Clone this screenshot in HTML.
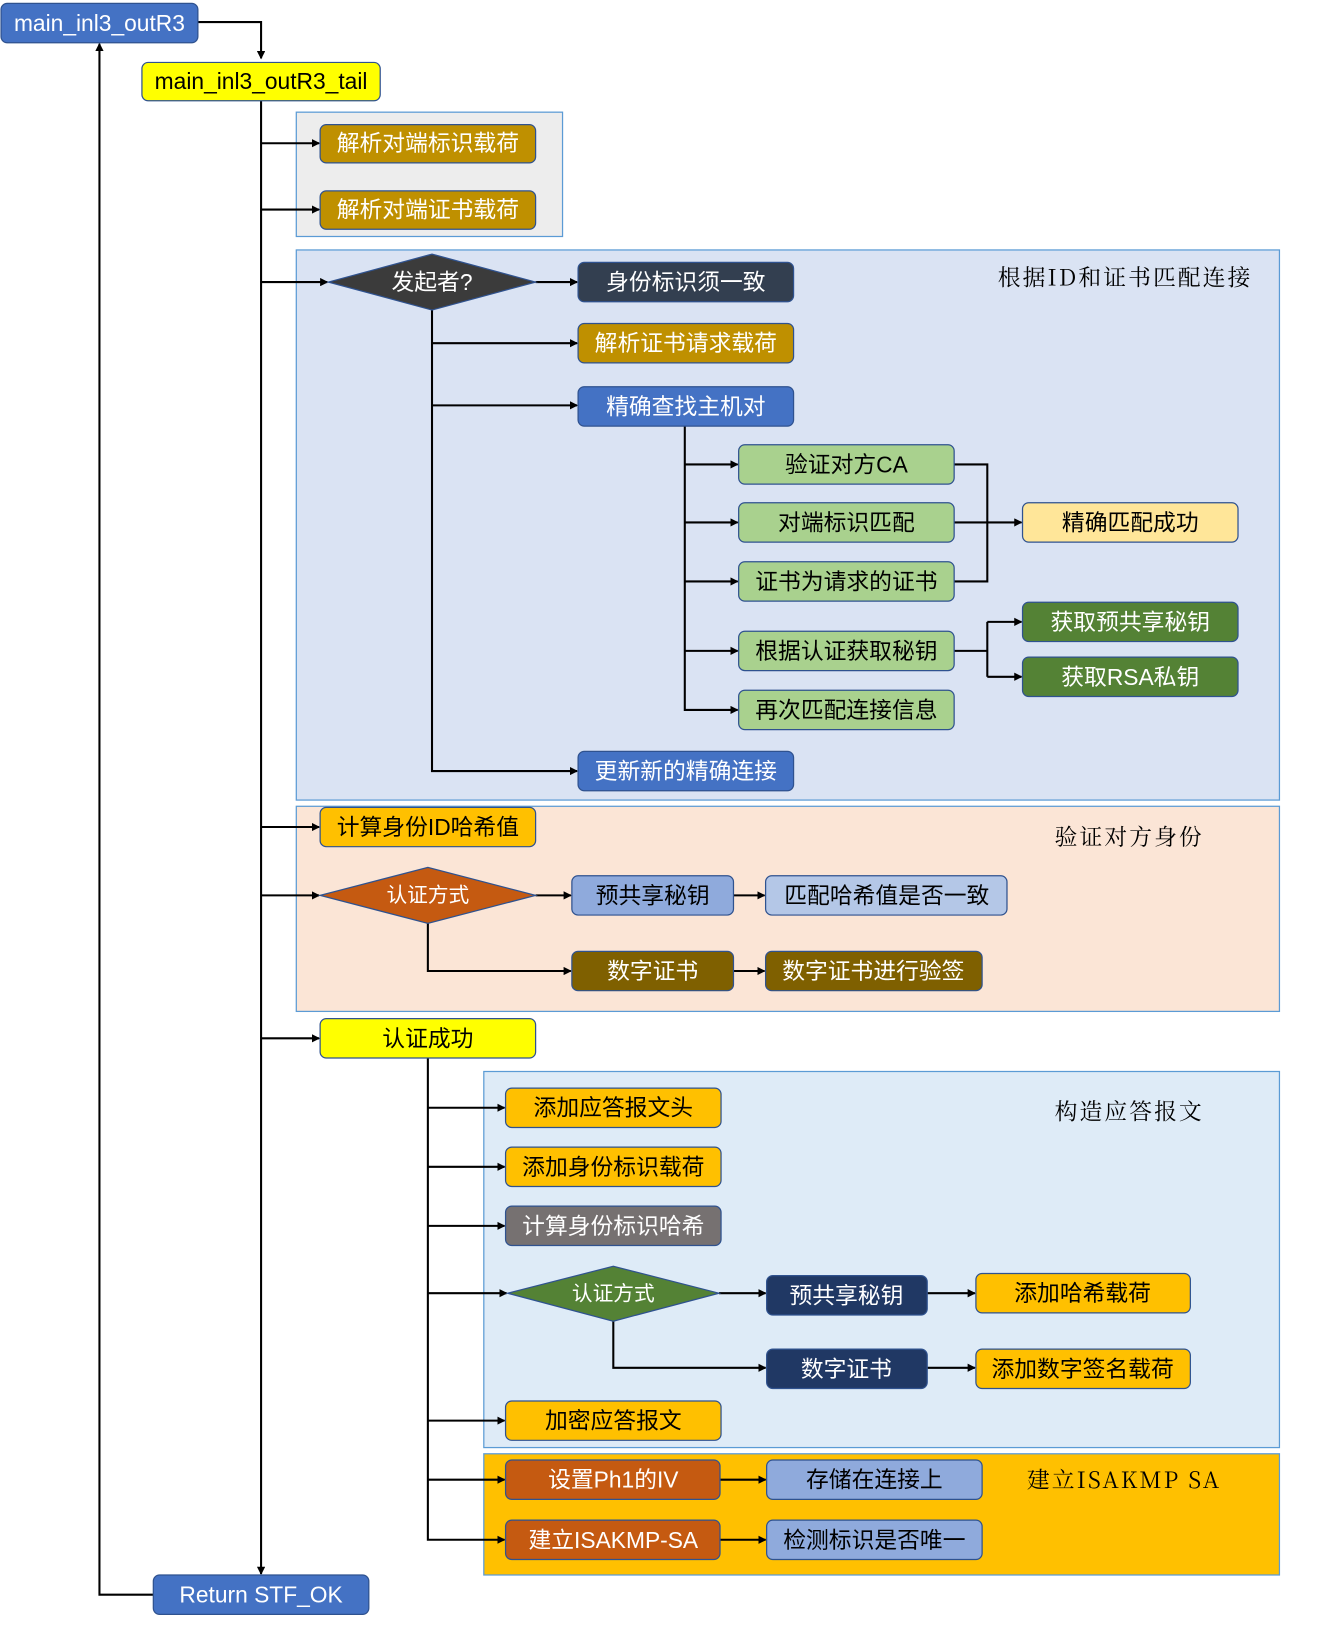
<!DOCTYPE html>
<html><head><meta charset="utf-8"><style>
html,body{margin:0;padding:0;background:#fff}
svg{display:block}
text{font-family:"Liberation Sans","Noto Sans CJK SC",sans-serif;font-size:22px;text-anchor:middle;dominant-baseline:central}
.t{font-family:"Noto Serif CJK SC","Liberation Serif",serif;font-size:22px;letter-spacing:2px;fill:#000}
.w{fill:#fff}.k{fill:#000}
.l{stroke:#000;stroke-width:2;fill:none}
</style></head><body>
<svg width="1324" height="1625" viewBox="0 0 1278 1568" xmlns="http://www.w3.org/2000/svg">
<defs><marker id="a" markerWidth="8" markerHeight="8" refX="7" refY="4" orient="auto" markerUnits="userSpaceOnUse"><path d="M0,0 L8,4 L0,8 z" fill="#000"/></marker></defs>
<!-- groups -->
<rect x="286" y="108" width="257" height="120" fill="#EDEDED" stroke="#5B9BD5" stroke-width="1.2"/>
<rect x="286" y="241" width="949" height="531" fill="#DAE3F3" stroke="#5B9BD5" stroke-width="1.2"/>
<rect x="286" y="778" width="949" height="198" fill="#FBE5D6" stroke="#5B9BD5" stroke-width="1.2"/>
<rect x="467" y="1034" width="768" height="363" fill="#DEEBF7" stroke="#5B9BD5" stroke-width="1.2"/>
<rect x="467" y="1403" width="768" height="117" fill="#FFC000" stroke="#5B9BD5" stroke-width="1.2"/>
<text class="t" x="1086" y="266">根据ID和证书匹配连接</text>
<text class="t" x="1090" y="806">验证对方身份</text>
<text class="t" x="1090" y="1071">构造应答报文</text>
<text class="t" x="1085" y="1427">建立ISAKMP SA</text>
<!-- lines -->
<g class="l">
<path d="M191,21 H252 V56" marker-end="url(#a)"/>
<path d="M252,97 V1519" marker-end="url(#a)"/>
<path d="M148,1539 H96 V42" marker-end="url(#a)"/>
<path d="M252,138 H308" marker-end="url(#a)"/>
<path d="M252,202 H308" marker-end="url(#a)"/>
<path d="M252,272 H316" marker-end="url(#a)"/>
<path d="M252,798 H308" marker-end="url(#a)"/>
<path d="M252,864 H308" marker-end="url(#a)"/>
<path d="M252,1002 H308" marker-end="url(#a)"/>
<path d="M517,272 H557" marker-end="url(#a)"/>
<path d="M417,299 V744 H557" marker-end="url(#a)"/>
<path d="M417,331 H557" marker-end="url(#a)"/>
<path d="M417,391 H557" marker-end="url(#a)"/>
<path d="M661,411 V685 H712" marker-end="url(#a)"/>
<path d="M661,448 H712" marker-end="url(#a)"/>
<path d="M661,504 H712" marker-end="url(#a)"/>
<path d="M661,561 H712" marker-end="url(#a)"/>
<path d="M661,628 H712" marker-end="url(#a)"/>
<path d="M921,448 H953 V561 H921"/>
<path d="M921,504 H986" marker-end="url(#a)"/>
<path d="M921,628 H953"/>
<path d="M953,600 V653"/>
<path d="M953,600 H986" marker-end="url(#a)"/>
<path d="M953,653 H986" marker-end="url(#a)"/>
<path d="M517,864 H551" marker-end="url(#a)"/>
<path d="M413,891 V937 H551" marker-end="url(#a)"/>
<path d="M708,864 H738" marker-end="url(#a)"/>
<path d="M708,937 H738" marker-end="url(#a)"/>
<path d="M413,1021 V1486 H487" marker-end="url(#a)"/>
<path d="M413,1069 H487" marker-end="url(#a)"/>
<path d="M413,1126 H487" marker-end="url(#a)"/>
<path d="M413,1183 H487" marker-end="url(#a)"/>
<path d="M413,1248 H489" marker-end="url(#a)"/>
<path d="M413,1371 H487" marker-end="url(#a)"/>
<path d="M413,1428 H487" marker-end="url(#a)"/>
<path d="M694,1248 H739" marker-end="url(#a)"/>
<path d="M592,1275 V1320 H739" marker-end="url(#a)"/>
<path d="M895,1248 H941" marker-end="url(#a)"/>
<path d="M895,1320 H941" marker-end="url(#a)"/>
<path d="M695,1428 H739" marker-end="url(#a)"/>
<path d="M695,1486 H739" marker-end="url(#a)"/>
</g>
<!-- nodes -->
<g stroke="#2F528F" stroke-width="1.2">
<rect x="1" y="3" width="190" height="38" rx="6" fill="#4472C4"/>
<rect x="137" y="60" width="230" height="37" rx="6" fill="#FFFF00"/>
<rect x="309" y="120" width="208" height="37" rx="6" fill="#BF9000"/>
<rect x="309" y="184" width="208" height="37" rx="6" fill="#BF9000"/>
<polygon points="317,272 417,245 517,272 417,299" fill="#3B3B3B"/>
<rect x="558" y="253" width="208" height="38" rx="6" fill="#333F50"/>
<rect x="558" y="312" width="208" height="38" rx="6" fill="#BF9000"/>
<rect x="558" y="373" width="208" height="38" rx="6" fill="#4472C4"/>
<rect x="713" y="429" width="208" height="38" rx="6" fill="#A9D18E"/>
<rect x="713" y="485" width="208" height="38" rx="6" fill="#A9D18E"/>
<rect x="713" y="542" width="208" height="38" rx="6" fill="#A9D18E"/>
<rect x="713" y="609" width="208" height="38" rx="6" fill="#A9D18E"/>
<rect x="713" y="666" width="208" height="38" rx="6" fill="#A9D18E"/>
<rect x="987" y="485" width="208" height="38" rx="6" fill="#FFE699"/>
<rect x="987" y="581" width="208" height="38" rx="6" fill="#548235"/>
<rect x="987" y="634" width="208" height="38" rx="6" fill="#548235"/>
<rect x="558" y="725" width="208" height="38" rx="6" fill="#4472C4"/>
<rect x="309" y="779" width="208" height="38" rx="6" fill="#FFC000"/>
<polygon points="309,864 413,837 517,864 413,891" fill="#C55A11"/>
<rect x="552" y="845" width="156" height="38" rx="6" fill="#8FAADC"/>
<rect x="739" y="845" width="233" height="38" rx="6" fill="#B4C7E7"/>
<rect x="552" y="918" width="156" height="38" rx="6" fill="#7F6000"/>
<rect x="739" y="918" width="209" height="38" rx="6" fill="#7F6000"/>
<rect x="309" y="983" width="208" height="38" rx="6" fill="#FFFF00"/>
<rect x="488" y="1050" width="208" height="38" rx="6" fill="#FFC000"/>
<rect x="488" y="1107" width="208" height="38" rx="6" fill="#FFC000"/>
<rect x="488" y="1164" width="208" height="38" rx="6" fill="#767171"/>
<polygon points="490,1248 592,1222 694,1248 592,1275" fill="#548235"/>
<rect x="740" y="1231" width="155" height="38" rx="6" fill="#203864"/>
<rect x="942" y="1229" width="207" height="38" rx="6" fill="#FFC000"/>
<rect x="740" y="1302" width="155" height="38" rx="6" fill="#203864"/>
<rect x="942" y="1302" width="207" height="38" rx="6" fill="#FFC000"/>
<rect x="488" y="1352" width="208" height="38" rx="6" fill="#FFC000"/>
<rect x="488" y="1409" width="207" height="38" rx="6" fill="#C55A11"/>
<rect x="740" y="1409" width="208" height="38" rx="6" fill="#8FAADC"/>
<rect x="488" y="1467" width="207" height="38" rx="6" fill="#C55A11"/>
<rect x="740" y="1467" width="208" height="38" rx="6" fill="#8FAADC"/>
<rect x="148" y="1520" width="208" height="38" rx="6" fill="#4472C4"/>
</g>
<!-- labels -->
<text class="w" x="96" y="22">main_inl3_outR3</text>
<text class="k" x="252" y="78">main_inl3_outR3_tail</text>
<text class="w" x="413" y="138">解析对端标识载荷</text>
<text class="w" x="413" y="202">解析对端证书载荷</text>
<text class="w" x="417" y="272">发起者?</text>
<text class="w" x="662" y="272">身份标识须一致</text>
<text class="w" x="662" y="331">解析证书请求载荷</text>
<text class="w" x="662" y="392">精确查找主机对</text>
<text class="k" x="817" y="448">验证对方CA</text>
<text class="k" x="817" y="504">对端标识匹配</text>
<text class="k" x="817" y="561">证书为请求的证书</text>
<text class="k" x="817" y="628">根据认证获取秘钥</text>
<text class="k" x="817" y="685">再次匹配连接信息</text>
<text class="k" x="1091" y="504">精确匹配成功</text>
<text class="w" x="1091" y="600">获取预共享秘钥</text>
<text class="w" x="1091" y="653">获取RSA私钥</text>
<text class="w" x="662" y="744">更新新的精确连接</text>
<text class="k" x="413" y="798">计算身份ID哈希值</text>
<text class="w" x="413" y="864" style="font-size:20px">认证方式</text>
<text class="k" x="630" y="864">预共享秘钥</text>
<text class="k" x="856" y="864">匹配哈希值是否一致</text>
<text class="w" x="630" y="937">数字证书</text>
<text class="w" x="843" y="937">数字证书进行验签</text>
<text class="k" x="413" y="1002">认证成功</text>
<text class="k" x="592" y="1069">添加应答报文头</text>
<text class="k" x="592" y="1126">添加身份标识载荷</text>
<text class="w" x="592" y="1183">计算身份标识哈希</text>
<text class="w" x="592" y="1249" style="font-size:20px">认证方式</text>
<text class="w" x="817" y="1250">预共享秘钥</text>
<text class="k" x="1045" y="1248">添加哈希载荷</text>
<text class="w" x="817" y="1321">数字证书</text>
<text class="k" x="1045" y="1321">添加数字签名载荷</text>
<text class="k" x="592" y="1371">加密应答报文</text>
<text class="w" x="592" y="1428">设置Ph1的IV</text>
<text class="k" x="844" y="1428">存储在连接上</text>
<text class="w" x="592" y="1486">建立ISAKMP-SA</text>
<text class="k" x="844" y="1486">检测标识是否唯一</text>
<text class="w" x="252" y="1539">Return STF_OK</text>
</svg>
</body></html>
